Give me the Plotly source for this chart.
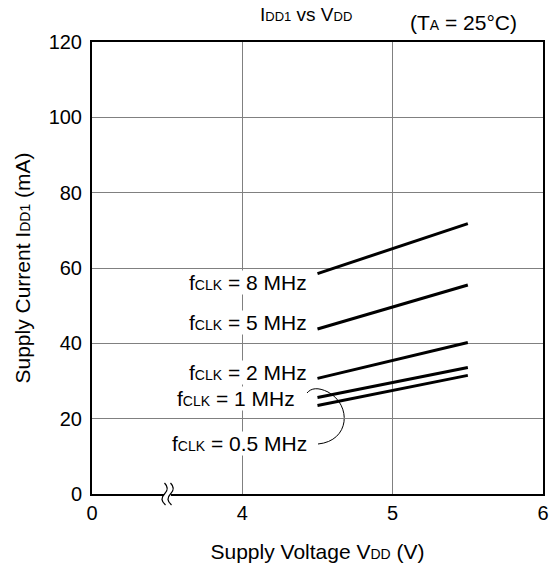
import numpy as np
import plotly.graph_objects as go

# ---- data ----
vdd = [4.5, 5.5]
freq_labels = ["8 MHz", "5 MHz", "2 MHz", "1 MHz", "0.5 MHz"]
idd_8mhz = [58.5, 71.8]
idd_5mhz = [43.8, 55.5]
idd_2mhz = [30.7, 40.2]
idd_1mhz = [25.6, 33.6]
idd_05mhz = [23.5, 31.5]
x_tick_values = [0, 4, 5, 6]
x_tick_labels = ["0", "4", "5", "6"]
y_tick_values = [0, 20, 40, 60, 80, 100, 120]

series = [idd_8mhz, idd_5mhz, idd_2mhz, idd_1mhz, idd_05mhz]

# broken axis: 0 .. 4 compressed into one tick interval
tick_pos = list(range(len(x_tick_values)))
def xpos(v):
    return np.interp(v, x_tick_values, tick_pos)

FONT = "Liberation Sans, Arial, sans-serif"
SUB = '<span style="font-size:{}px">{}</span>'

L, R, T, B = 92, 6, 42, 78
W, H = 549, 572
PW, PH = W - L - R, H - T - B

def x0(px):
    return (px - L) / PW * 3
def y0(py):
    return (H - B - py) / PH * 120
def xp(px):
    return (px - L) / PW
def yp(py):
    return (H - B - py) / PH

fig = go.Figure()
for ys in series:
    fig.add_trace(go.Scatter(x=xpos(vdd), y=ys, mode="lines",
                             line=dict(color="black", width=3),
                             showlegend=False, hoverinfo="skip"))

# labels (pixel anchors of right edge / vertical centre)
lab_px = [(308, 282), (308, 322), (308, 372), (296, 398), (308, 443)]
for f, (px, py) in zip(freq_labels, lab_px):
    fig.add_annotation(x=x0(px), y=y0(py), xref="x", yref="y", xanchor="right", yanchor="middle",
                       text="f" + SUB.format(14, "CLK") + " = " + f, showarrow=False,
                       font=dict(size=21, color="black", family=FONT),
                       bgcolor="white", borderpad=0)

# callout curve for 0.5 MHz
path = "M {},{} C {},{} {},{} {},{} C {},{} {},{} {},{}".format(
    x0(307), y0(393), x0(311), y0(388), x0(318), y0(387), x0(328), y0(392),
    x0(352), y0(405), x0(350), y0(441), x0(318), y0(444))
fig.add_shape(type="path", path=path, xref="x", yref="y",
              line=dict(color="black", width=1), layer="below")

# axis break: white gap + two vertical S marks
fig.add_shape(type="rect", xref="paper", yref="paper",
              x0=xp(164), x1=xp(171), y0=yp(497), y1=yp(491),
              line=dict(width=0), fillcolor="white", layer="above")
for cx in (164.5, 170.5):
    p = "M {},{} Q {},{} {},{} Q {},{} {},{}".format(
        xp(cx), yp(483), xp(cx + 5.5), yp(488.5), xp(cx), yp(494),
        xp(cx - 5.5), yp(499.5), xp(cx + 1), yp(505))
    fig.add_shape(type="path", path=p, xref="paper", yref="paper",
                  line=dict(color="black", width=1.3), layer="above")

fig.add_annotation(x=x0(306), y=1, xref="x", yref="paper", yshift=28, yanchor="middle",
                   xanchor="center",
                   text="I" + SUB.format(13, "DD1") + " vs V" + SUB.format(13, "DD"),
                   showarrow=False, font=dict(size=19, color="black", family=FONT))
fig.add_annotation(x=x0(519), y=1, xref="x", yref="paper", yshift=20, yanchor="middle",
                   xanchor="right",
                   text="(T" + SUB.format(14, "A") + " = 25°C)",
                   showarrow=False, font=dict(size=21, color="black", family=FONT))

fig.update_layout(
    width=W, height=H,
    margin=dict(l=L, r=R, t=T, b=B, autoexpand=False),
    plot_bgcolor="white", paper_bgcolor="white",
    font=dict(family=FONT, size=20, color="black"),
    xaxis=dict(range=[0, 3], tickvals=tick_pos, ticktext=x_tick_labels,
               showgrid=True, gridcolor="#808080", gridwidth=1,
               showline=True, linecolor="black", linewidth=2, mirror=True,
               zeroline=False, ticks="", tickfont=dict(size=20),
               automargin=False,
               title=dict(text="Supply Voltage V" + SUB.format(14, "DD") + " (V)",
                          font=dict(size=21), standoff=21)),
    yaxis=dict(range=[0, 120], tickvals=y_tick_values,
               showgrid=True, gridcolor="#808080", gridwidth=1,
               showline=True, linecolor="black", linewidth=2, mirror=True,
               zeroline=False, ticks="", tickfont=dict(size=20),
               ticklabelstandoff=4,
               automargin=False,
               title=dict(text="Supply Current I" + SUB.format(14, "DD1") + " (mA)",
                          font=dict(size=21), standoff=12)),
)

fig.write_html("out.html", config={"displayModeBar": False},
               post_script="document.body.style.margin='0px';")
